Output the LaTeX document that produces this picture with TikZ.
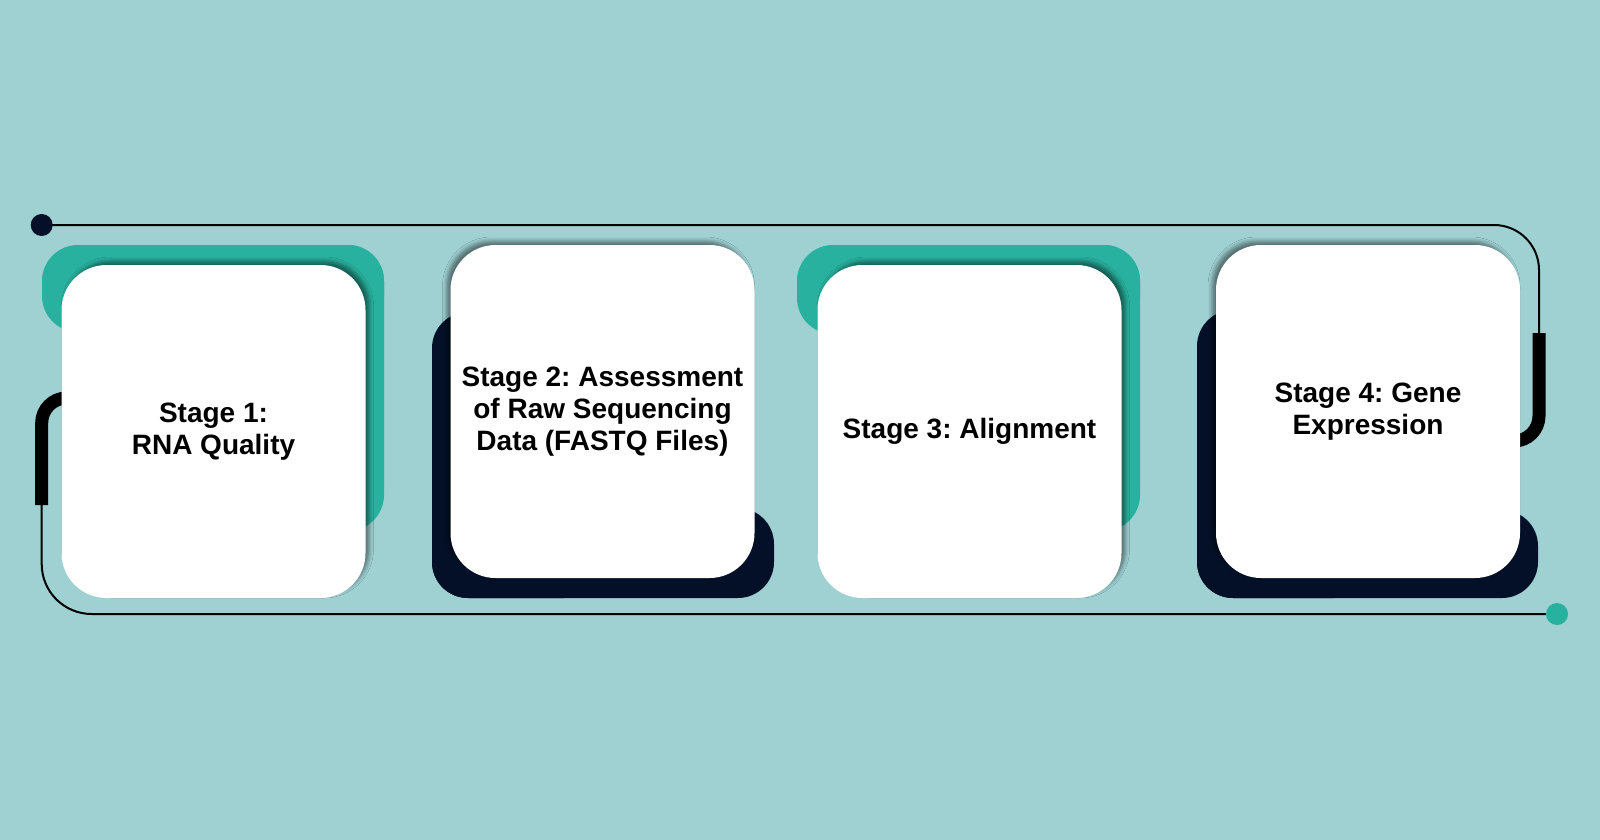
\documentclass[tikz,border=0pt]{standalone}
\usepackage{fontspec}
\setmainfont{Liberation Sans}
\usetikzlibrary{shadows.blur}
\definecolor{bgc}{HTML}{9FD1D3}
\definecolor{tealc}{HTML}{28B19F}
\definecolor{navyc}{HTML}{041027}
\frenchspacing
\tikzset{
  card/.style={fill=white, rounded corners=45pt, minimum width=304pt, minimum height=333pt,
    inner sep=0pt, align=center, text=black, font=\bfseries\fontsize{28}{32}\selectfont},
  shadowR/.style={blur shadow={shadow xshift=4pt, shadow yshift=4pt, shadow blur radius=4pt, shadow opacity=45}},
  shadowL/.style={blur shadow={shadow xshift=-4pt, shadow yshift=4pt, shadow blur radius=4pt, shadow opacity=45}},
  backbox/.style={rounded corners=36pt},
  thinline/.style={draw=black, line width=2pt},
  thickline/.style={draw=black, line width=13pt},
  dotmark/.style={circle, inner sep=0pt, minimum size=22pt}
}
\begin{document}
\begin{tikzpicture}[x=1pt,y=-1pt]
\useasboundingbox (0,0) rectangle (1600,840);
\fill[bgc] (0,0) rectangle (1600,840);
% back shapes (L-shaped, built from two rounded rectangles)
\fill[tealc, backbox] (42,245) rectangle (384,332);
\fill[tealc, backbox] (200,245) rectangle (384,531);
\fill[navyc, backbox] (432,312) rectangle (600,598);
\fill[navyc, backbox] (432,508) rectangle (774,598);
\fill[tealc, backbox] (797,245) rectangle (1140,334);
\fill[tealc, backbox] (960,245) rectangle (1140,531);
\fill[navyc, backbox] (1197,310) rectangle (1370,598);
\fill[navyc, backbox] (1197,510) rectangle (1538,598);
% connector coordinates
\coordinate (startdot) at (41.7,225);
\coordinate (enddot) at (1557,614);
\coordinate (rc) at (1539,225);
\coordinate (rt) at (1539,333);
\coordinate (rb) at (1539,441);
\coordinate (rin) at (1495,441);
\coordinate (lin) at (90,398);
\coordinate (lt) at (41.7,398);
\coordinate (lb) at (41.7,505);
\coordinate (lc) at (41.7,614);
% connectors
\draw[thinline, rounded corners=45pt] (startdot) -- (rc) -- (rt);
\draw[thickline, rounded corners=25pt] (rt) -- (rb) -- (rin);
\draw[thickline, rounded corners=25pt] (lin) -- (lt) -- (lb);
\draw[thinline, rounded corners=50pt] (lb) -- (lc) -- (enddot);
\node[dotmark, fill=navyc] (d1) at (startdot) {};
\node[dotmark, fill=tealc] (d2) at (enddot) {};
% cards
\node[card, shadowR] (s1) at (213.5,431.5) {Stage 1:\\RNA Quality};
\node[card, shadowL] (s2) at (602.5,411.5) {Stage 2: Assessment\\of Raw Sequencing\\Data (FASTQ Files)};
\node[card, shadowR] (s3) at (969.5,431.5) {Stage 3: Alignment};
\node[card, shadowL] (s4) at (1368,411.5) {Stage 4: Gene\\Expression};
\end{tikzpicture}
\end{document}
